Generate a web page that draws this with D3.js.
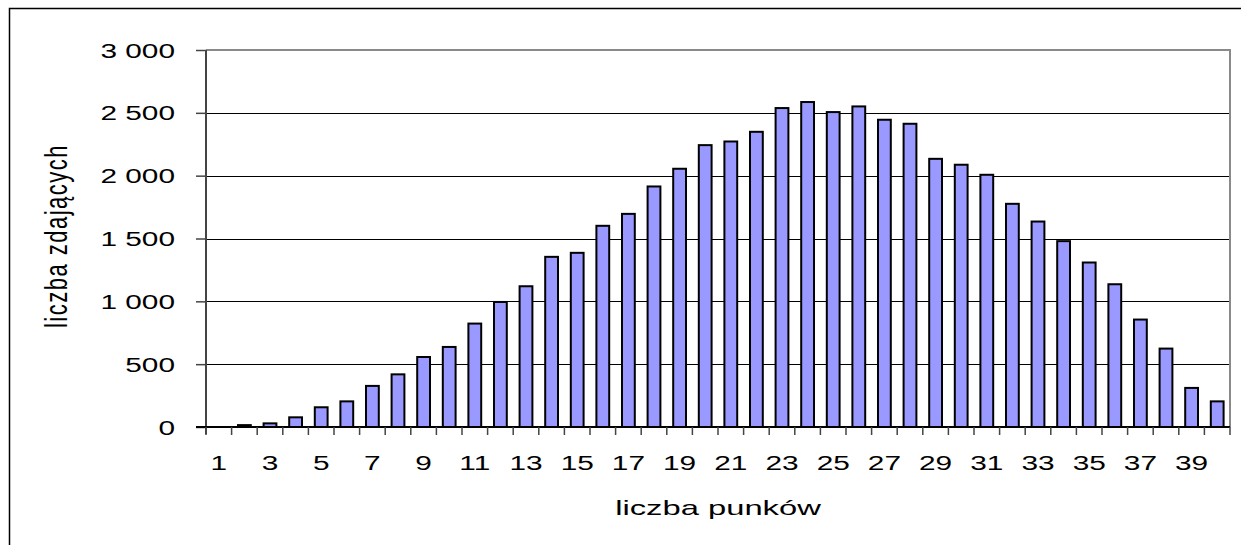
<!DOCTYPE html>
<html>
<head>
<meta charset="utf-8">
<script src="https://cdn.jsdelivr.net/npm/d3@7"></script>
<style>
  html, body { margin: 0; padding: 0; background: #fff; }
  svg { display: block; }
  text { font-family: "Liberation Sans", Arial, sans-serif; fill: #000; }
</style>
</head>
<body>
<svg id="chart" width="1241" height="545"></svg>
<script>
// data
var points = d3.range(1, 41);
var counts = [0, 15, 29, 77, 157, 204, 327, 419, 557, 637,
              823, 995, 1120, 1354, 1386, 1601, 1696, 1914, 2055, 2243,
              2272, 2349, 2538, 2586, 2506, 2551, 2445, 2413, 2134, 2087,
              2007, 1776, 1635, 1479, 1309, 1136, 855, 624, 311, 204];
var yTicks = [0, 500, 1000, 1500, 2000, 2500, 3000];
var xLabels = points.filter(function(d){ return d % 2 === 1; });
var yTitle = "liczba zdających", xTitle = "liczba punków";

var plotL = 206, plotR = 1230, plotT = 50, plotB = 427;
var sx = 1.42; // the original is stretched sideways

var svg = d3.select("#chart");

// outer frame
svg.append("rect")
    .attr("x", 9.5).attr("y", 8.5)
    .attr("width", 1300).attr("height", 600)
    .attr("fill", "none").attr("stroke", "#000").attr("stroke-width", 1.5);

var x = d3.scaleBand()
    .domain(points)
    .range([plotL, plotR])
    .paddingInner(0.5)
    .paddingOuter(0.25);

var y = d3.scaleLinear()
    .domain([0, 3000])
    .range([plotB, plotT]);

// gridlines
svg.append("g").selectAll("line")
    .data(yTicks.filter(function(d){ return d > 0 && d < 3000; }))
    .enter().append("line")
    .attr("x1", plotL).attr("x2", plotR)
    .attr("y1", function(d){ return Math.round(y(d)) + 0.5; })
    .attr("y2", function(d){ return Math.round(y(d)) + 0.5; })
    .attr("stroke", "#000").attr("stroke-width", 1);

// plot area border top/right (grey)
svg.append("path")
    .attr("d", "M" + plotL + "," + plotT + "H" + plotR + "V" + plotB)
    .attr("fill", "none").attr("stroke", "#8a8a8a").attr("stroke-width", 2);

// bars
svg.append("g").selectAll("rect")
    .data(counts)
    .enter().append("rect")
    .attr("x", function(d, i){ return x(points[i]); })
    .attr("width", x.bandwidth())
    .attr("y", function(d){ return y(d); })
    .attr("height", function(d){ return y(0) - y(d); })
    .attr("fill", "#9999ff")
    .attr("stroke", "#000").attr("stroke-width", 2);

// y axis
var yAxis = d3.axisLeft(y).tickValues(yTicks).tickSize(10).tickPadding(0)
    .tickFormat(function(d){ return d3.format(",")(d).replace(",", " "); });
var gy = svg.append("g").attr("transform", "translate(" + plotL + ",0)").call(yAxis);
gy.select(".domain").attr("stroke", "#444").attr("stroke-width", 2)
    .attr("d", "M0," + plotT + "V" + (plotB + 7));
gy.selectAll(".tick line").attr("stroke", "#444").attr("stroke-width", 1.5);
gy.selectAll(".tick text")
    .attr("x", 0).attr("dy", null).attr("y", 0)
    .attr("text-anchor", "end")
    .attr("font-size", 21)
    .attr("transform", "translate(-31,7) scale(" + sx + ",1)");

// x axis: ticks at category boundaries
var half = x.step() * x.paddingInner() / 2;
var bounds = points.map(function(d){ return x(d) - half; }).concat([plotR]);
var gx = svg.append("g");
gx.append("line")
    .attr("x1", plotL - 10).attr("x2", plotR)
    .attr("y1", plotB).attr("y2", plotB)
    .attr("stroke", "#000").attr("stroke-width", 2);
gx.selectAll("line.tk").data(bounds).enter().append("line")
    .attr("class", "tk")
    .attr("x1", function(d){ return d; }).attr("x2", function(d){ return d; })
    .attr("y1", plotB).attr("y2", plotB + 8)
    .attr("stroke", "#444").attr("stroke-width", 1.5);
gx.selectAll("text").data(xLabels).enter().append("text")
    .attr("text-anchor", "middle")
    .attr("font-size", 21)
    .attr("transform", function(d){
        return "translate(" + (x(d) + x.bandwidth() / 2) + ",470) scale(" + sx + ",1)";
    })
    .text(function(d){ return d; });

// axis titles
svg.append("text")
    .attr("text-anchor", "middle")
    .attr("font-size", 21)
    .attr("transform", "translate(718,515) scale(1.56,1)")
    .text(xTitle);

svg.append("text")
    .attr("text-anchor", "middle")
    .attr("font-size", 22)
    .attr("letter-spacing", 1.5)
    .attr("transform", "translate(67,236) scale(1.45,1) rotate(-90)")
    .text(yTitle);
</script>
</body>
</html>
